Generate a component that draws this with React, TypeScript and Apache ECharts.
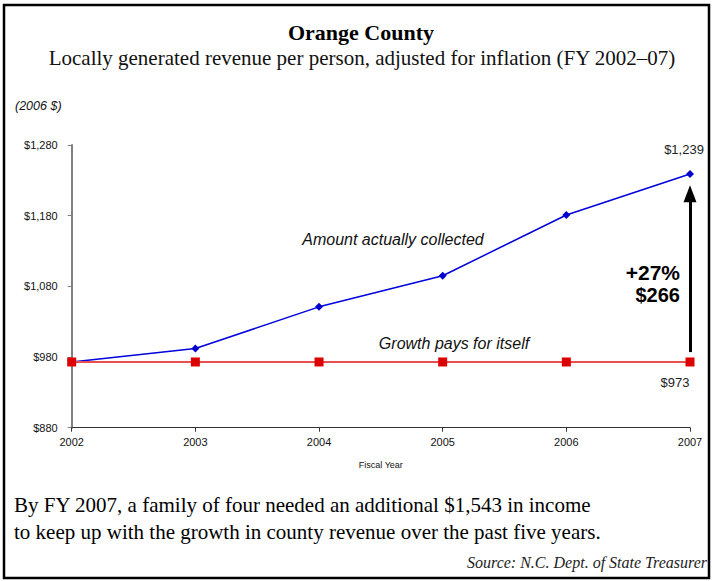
import React, { useEffect, useRef } from "react";
import * as echarts from "echarts";

const years = ["2002", "2003", "2004", "2005", "2006", "2007"];
const collected = [973, 992, 1051, 1095, 1181, 1239];
const breakEven = [973, 973, 973, 973, 973, 973];
const yMin = 880;
const yMax = 1280;
const yStep = 100;
const arrowFrom = 987;
const arrowTo = 1205;
const arrowHead = 1211;

const fmt = (v: number) => "$" + v.toLocaleString("en-US");

export default function App() {
  const ref = useRef<HTMLDivElement>(null);
  useEffect(() => {
    if (!ref.current) return;
    const chart = echarts.init(ref.current, null, { renderer: "svg" });
    const last = years.length - 1;
    chart.setOption({
      animation: false,
      backgroundColor: "#ffffff",
      grid: { left: 71.7, right: 23, top: 145, bottom: 153.3, containLabel: false },
      xAxis: {
        type: "category",
        data: years,
        boundaryGap: false,
        axisLine: { lineStyle: { color: "#333", width: 1 } },
        axisTick: { show: true, length: 4, lineStyle: { color: "#333" } },
        axisLabel: { fontFamily: "Liberation Sans, Arial", fontSize: 11, color: "#111", margin: 9 },
        name: "Fiscal Year",
        nameLocation: "middle",
        nameGap: 33,
        nameTextStyle: { fontFamily: "Liberation Sans, Arial", fontSize: 9, color: "#111" },
      },
      yAxis: {
        type: "value",
        min: yMin,
        max: yMax,
        interval: yStep,
        axisLine: { show: true, lineStyle: { color: "#808080", width: 2 } },
        axisTick: { show: true, length: 4, lineStyle: { color: "#808080" } },
        splitLine: { show: false },
        axisLabel: {
          fontFamily: "Liberation Sans, Arial",
          fontSize: 11,
          color: "#111",
          margin: 14,
          formatter: (v: number) => fmt(v),
        },
      },
      series: [
        {
          type: "line",
          name: "Amount actually collected",
          data: collected.map((v, i) =>
            i === last
              ? {
                  value: v,
                  label: {
                    show: true,
                    position: "top",
                    distance: 14,
                    offset: [-6, 0],
                    formatter: fmt(v),
                    fontFamily: "Liberation Sans, Arial",
                    fontSize: 13,
                    color: "#222",
                  },
                }
              : v
          ),
          symbol: "diamond",
          symbolSize: 8,
          lineStyle: { color: "#0000dd", width: 1.5 },
          itemStyle: { color: "#0000cc" },
          z: 2,
        },
        {
          type: "line",
          name: "Growth pays for itself",
          data: breakEven.map((v, i) =>
            i === last
              ? {
                  value: v,
                  label: {
                    show: true,
                    position: "bottom",
                    distance: 10,
                    offset: [-15, 0],
                    formatter: fmt(v),
                    fontFamily: "Liberation Sans, Arial",
                    fontSize: 13,
                    color: "#222",
                  },
                }
              : v
          ),
          symbol: "rect",
          symbolSize: 9,
          lineStyle: { color: "#e85050", width: 2 },
          itemStyle: { color: "#dd0000" },
          z: 3,
          markLine: {
            silent: true,
            symbol: ["none", "none"],
            lineStyle: { color: "#000", width: 3, type: "solid" },
            label: { show: false },
            data: [[{ coord: [years[last], arrowFrom] }, { coord: [years[last], arrowTo] }]],
          },
          markPoint: {
            silent: true,
            symbol: "triangle",
            symbolSize: [13, 17],
            itemStyle: { color: "#000" },
            label: { show: false },
            data: [{ coord: [years[last], arrowHead] }],
          },
        },
      ],
      graphic: [
        {
          type: "rect",
          shape: { x: 4, y: 5, width: 705, height: 573 },
          style: { fill: "none", stroke: "#000", lineWidth: 2.5 },
          silent: true,
        },
        {
          type: "text",
          x: 361,
          y: 32,
          style: {
            text: "Orange County",
            font: "bold 22px 'Liberation Serif', serif",
            fill: "#000",
            align: "center",
            verticalAlign: "middle",
          },
        },
        {
          type: "text",
          x: 362,
          y: 58,
          style: {
            text: "Locally generated revenue per person, adjusted for inflation (FY 2002\u201307)",
            font: "21px 'Liberation Serif', serif",
            fill: "#111",
            align: "center",
            verticalAlign: "middle",
          },
        },
        {
          type: "text",
          x: 15,
          y: 106,
          style: {
            text: "(2006 $)",
            font: "italic 12.5px 'Liberation Sans', Arial",
            fill: "#111",
            align: "left",
            verticalAlign: "middle",
          },
        },
        {
          type: "text",
          x: 393,
          y: 239,
          style: {
            text: "Amount actually collected",
            font: "italic 16px 'Liberation Sans', Arial",
            fill: "#111",
            align: "center",
            verticalAlign: "middle",
          },
        },
        {
          type: "text",
          x: 454,
          y: 343,
          style: {
            text: "Growth pays for itself",
            font: "italic 16px 'Liberation Sans', Arial",
            fill: "#111",
            align: "center",
            verticalAlign: "middle",
          },
        },
        {
          type: "text",
          x: 680,
          y: 272,
          style: {
            text: "+27%",
            font: "bold 21px 'Liberation Sans', Arial",
            fill: "#000",
            align: "right",
            verticalAlign: "middle",
          },
        },
        {
          type: "text",
          x: 680,
          y: 295,
          style: {
            text: "$266",
            font: "bold 20px 'Liberation Sans', Arial",
            fill: "#000",
            align: "right",
            verticalAlign: "middle",
          },
        },
        {
          type: "text",
          x: 14,
          y: 505,
          style: {
            text: "By FY 2007, a family of four needed an additional $1,543 in income",
            font: "21px 'Liberation Serif', serif",
            fill: "#000",
            align: "left",
            verticalAlign: "middle",
          },
        },
        {
          type: "text",
          x: 14,
          y: 532,
          style: {
            text: "to keep up with the growth in county revenue over the past five years.",
            font: "21px 'Liberation Serif', serif",
            fill: "#000",
            align: "left",
            verticalAlign: "middle",
          },
        },
        {
          type: "text",
          x: 707,
          y: 562,
          style: {
            text: "Source: N.C. Dept. of State Treasurer",
            font: "italic 16px 'Liberation Serif', serif",
            fill: "#222",
            align: "right",
            verticalAlign: "middle",
          },
        },
      ],
    });
    return () => chart.dispose();
  }, []);
  return (
    <div
      ref={ref}
      style={{ position: "absolute", left: 0, top: 0, width: 713, height: 581 }}
    />
  );
}
